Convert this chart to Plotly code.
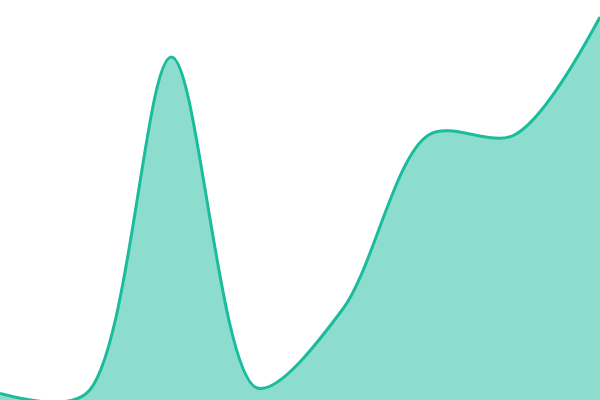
import plotly.graph_objects as go

# Sample positions and heights
x_values = [0, 1, 2, 3, 4, 5, 6, 7]
y_values = [6.5, 6, 343, 12, 91, 265, 265, 383]

LINE_COLOR = '#1abc9c'
FILL_COLOR = 'rgba(26, 188, 156, 0.5)'

fig = go.Figure(go.Scatter(
    x=x_values,
    y=y_values,
    mode='lines',
    line=dict(color=LINE_COLOR, width=3, shape='spline', smoothing=0.9),
    fill='tozeroy',
    fillcolor=FILL_COLOR,
    hoverinfo='skip'
))

fig.update_layout(
    width=600,
    height=400,
    margin=dict(l=0, r=0, t=0, b=0),
    paper_bgcolor='white',
    plot_bgcolor='white',
    showlegend=False,
    xaxis=dict(visible=False, range=[0, 7]),
    yaxis=dict(visible=False, range=[0, 400])
)

# page body has a default 8px margin; drop it so the chart sits edge to edge
fig.write_html(
    "out.html",
    config=dict(displayModeBar=False),
    post_script="document.body.style.margin='0';document.body.style.overflow='hidden';"
)
